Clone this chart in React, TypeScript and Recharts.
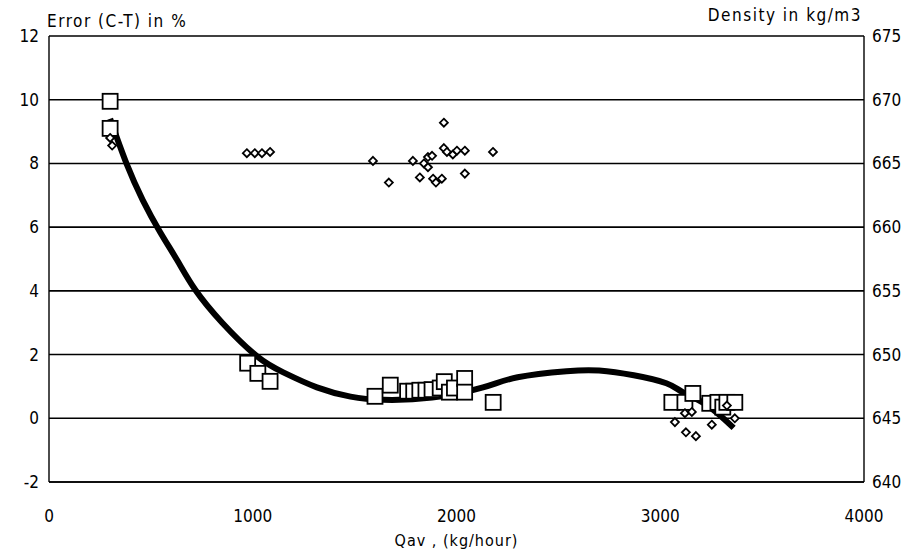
import React from 'react';
import { ComposedChart, Line, Scatter, XAxis, YAxis, CartesianGrid, Label } from 'recharts';

// error (C-T) in %, square markers, left axis
const errQ = [300, 300, 975, 1025, 1085, 1600, 1675, 1760, 1790, 1820, 1850, 1880, 1920, 1940, 1965, 1990, 2040, 2040, 2180, 3057, 3121, 3160, 3243, 3283, 3307, 3327, 3366];
const errPct = [9.95, 9.1, 1.73, 1.41, 1.16, 0.69, 1.04, 0.85, 0.85, 0.88, 0.88, 0.9, 0.95, 1.15, 0.82, 0.95, 1.25, 0.82, 0.5, 0.5, 0.5, 0.78, 0.47, 0.5, 0.35, 0.5, 0.5];

// density in kg/m3, diamond markers, right axis
const densQ = [300, 310, 971, 1010, 1045, 1085, 1590, 1668, 1786, 1820, 1840, 1860, 1880, 1860, 1885, 1899, 1928, 1938, 1938, 1953, 1982, 2002, 2041, 2041, 2179, 3072, 3126, 3175, 3121, 3155, 3253, 3327, 3366];
const densVal = [667.0, 666.4, 665.8, 665.8, 665.8, 665.9, 665.2, 663.5, 665.2, 663.9, 665.0, 665.5, 665.6, 664.7, 663.8, 663.5, 663.8, 668.2, 666.2, 665.9, 665.7, 666.0, 666.0, 664.2, 665.9, 644.7, 643.9, 643.6, 645.4, 645.5, 644.5, 646.0, 645.0];

// fitted curve, left axis
const fitQ = [300, 380, 460, 545, 630, 716, 850, 1020, 1150, 1315, 1480, 1640, 1880, 2130, 2300, 2540, 2700, 2870, 3030, 3110, 3230, 3360];
const fitPct = [9.4, 8.0, 6.85, 5.85, 4.95, 4.05, 3.0, 1.95, 1.44, 0.97, 0.68, 0.58, 0.65, 0.97, 1.29, 1.48, 1.5, 1.35, 1.1, 0.82, 0.41, -0.3];

const xTicks = [0, 1000, 2000, 3000, 4000];
const leftTicks = [-2, 0, 2, 4, 6, 8, 10, 12];
const rightTicks = [640, 645, 650, 655, 660, 665, 670, 675];

const errData = errQ.map((q, i) => ({ q, err: errPct[i] }));
const densData = densQ.map((q, i) => ({ q, dens: densVal[i] }));
const fitData = fitQ.map((q, i) => ({ q, fit: fitPct[i] }));

const font = '"DejaVu Sans Condensed", "Liberation Sans Narrow", "DejaVu Sans", sans-serif';
const tickStyle = { fontSize: 17, fill: '#000', fontFamily: font };

const Square = (props: any) => {
  const { cx, cy } = props;
  if (cx == null || cy == null) return null;
  return <rect x={cx - 7.5} y={cy - 7.5} width={15} height={15} fill="#fff" stroke="#000" strokeWidth={1.8} />;
};

const Diamond = (props: any) => {
  const { cx, cy } = props;
  if (cx == null || cy == null) return null;
  const r = 4;
  return (
    <polygon
      points={`${cx},${cy - r} ${cx + r},${cy} ${cx},${cy + r} ${cx - r},${cy}`}
      fill="#fff"
      stroke="#000"
      strokeWidth={1.8}
    />
  );
};

export default function App() {
  return (
    <div style={{ position: 'absolute', top: 0, left: 0, width: 920, height: 552, background: '#fff', fontFamily: font }}>
      <span style={{ position: 'absolute', left: 47, top: 11, fontSize: 17, letterSpacing: 1.5, lineHeight: '20px' }}>
        Error (C-T) in %
      </span>
      <span style={{ position: 'absolute', right: 58, top: 5, fontSize: 17, letterSpacing: 1.5, lineHeight: '20px' }}>
        Density in kg/m3
      </span>
      <ComposedChart width={920} height={552} margin={{ top: 36, right: 0, bottom: 0, left: 0 }}>
        <CartesianGrid vertical={false} stroke="#000" strokeWidth={1.6} yAxisId="left" />
        <XAxis
          type="number"
          dataKey="q"
          domain={[0, 4000]}
          ticks={xTicks}
          height={70}
          tickLine={false}
          tickSize={0}
          tickMargin={28}
          axisLine={{ stroke: '#000', strokeWidth: 1.6 }}
          tick={tickStyle}
          allowDataOverflow
        >
          <Label value="Qav , (kg/hour)" position="insideBottom" offset={6} style={{ fontSize: 16, fill: '#000', fontFamily: font, letterSpacing: 1 }} />
        </XAxis>
        <YAxis
          yAxisId="left"
          type="number"
          domain={[-2, 12]}
          ticks={leftTicks}
          width={49}
          tickLine={false}
          tickSize={0}
          tickMargin={10}
          axisLine={{ stroke: '#000', strokeWidth: 1.4 }}
          tick={tickStyle}
          allowDataOverflow
        />
        <YAxis
          yAxisId="right"
          orientation="right"
          type="number"
          domain={[640, 675]}
          ticks={rightTicks}
          width={56}
          tickLine={false}
          tickSize={0}
          tickMargin={8}
          axisLine={{ stroke: '#000', strokeWidth: 1.4 }}
          tick={tickStyle}
          allowDataOverflow
        />
        <Scatter yAxisId="left" data={errData} dataKey="err" shape={Square} isAnimationActive={false} />
        <Line
          yAxisId="left"
          data={fitData}
          dataKey="fit"
          type="natural"
          stroke="#000"
          strokeWidth={6}
          dot={false}
          activeDot={false}
          isAnimationActive={false}
        />
        <Scatter yAxisId="right" data={densData} dataKey="dens" shape={Diamond} isAnimationActive={false} />
      </ComposedChart>
    </div>
  );
}
